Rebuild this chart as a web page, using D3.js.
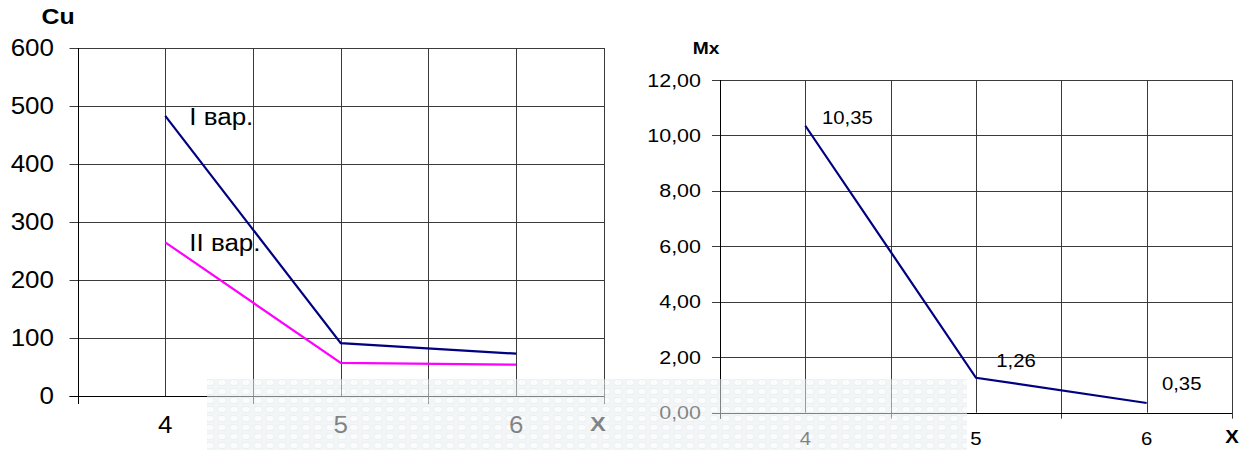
<!DOCTYPE html>
<html>
<head>
<meta charset="utf-8">
<script src="https://cdn.jsdelivr.net/npm/d3@7"></script>
<style>
  html, body { margin: 0; padding: 0; background: #fff; }
  svg { display: block; font-family: "Liberation Sans", Arial, sans-serif; }
</style>
</head>
<body>
<svg id="chart" width="1254" height="450"></svg>
<script>
// Categories (X) shared by both plots
const categories = [4, 5, 6];

// Left plot: Cu for two variants
const cuVariant1 = [483, 91, 73];
const cuVariant2 = [265, 57, 54];
const cuTicks = [0, 100, 200, 300, 400, 500, 600];
const seriesNames = ["I вар.", "II вар."];

// Right plot: Mx
const mxValues = [10.35, 1.26, 0.35];
const mxTicks = [0, 2, 4, 6, 8, 10, 12];

const svg = d3.select("#chart");
const commaFmt = v => d3.format(".2f")(v).replace(".", ",");
const SX = 1.13; // the lettering is set slightly wide

// place a text element at (x, y), widened horizontally
function placeText(sel, fx, fy) {
  return sel.attr("x", 0).attr("y", 0)
    .attr("transform", (d, i) => `translate(${fx(d, i)},${fy(d, i)}) scale(${SX},1)`);
}

// Hatch pattern for the translucent band along the bottom
const defs = svg.append("defs");
const pat = defs.append("pattern")
  .attr("id", "weave").attr("patternUnits", "userSpaceOnUse")
  .attr("width", 12).attr("height", 9);
pat.append("rect").attr("width", 12).attr("height", 9).attr("fill", "#e9eef1");
pat.append("ellipse").attr("cx", 6).attr("cy", 4.5).attr("rx", 4.2).attr("ry", 3)
  .attr("fill", "#f8fafb").attr("stroke", "#d6dde2").attr("stroke-width", 0.8);
pat.append("ellipse").attr("cx", 0).attr("cy", 0).attr("rx", 3).attr("ry", 2)
  .attr("fill", "none").attr("stroke", "#dde3e7").attr("stroke-width", 0.6);
pat.append("ellipse").attr("cx", 12).attr("cy", 9).attr("rx", 3).attr("ry", 2)
  .attr("fill", "none").attr("stroke", "#dde3e7").attr("stroke-width", 0.6);

function drawPanel(cfg) {
  const g = svg.append("g");
  const x = d3.scaleLinear().domain([3.5, 6.5]).range([cfg.left, cfg.right]);
  const y = d3.scaleLinear().domain(cfg.yDomain).range([cfg.bottom, cfg.top]);

  // horizontal grid lines with outward ticks
  g.append("g").selectAll("line").data(cfg.yTicks).join("line")
    .attr("x1", cfg.left - 8).attr("x2", cfg.right)
    .attr("y1", d => Math.round(y(d)) + 0.5).attr("y2", d => Math.round(y(d)) + 0.5)
    .attr("stroke", "#3a3a3a").attr("stroke-width", 1);

  // vertical grid lines at every half step
  const vx = d3.range(3.5, 6.51, 0.5);
  g.append("g").selectAll("line").data(vx).join("line")
    .attr("x1", d => Math.round(x(d)) + 0.5).attr("x2", d => Math.round(x(d)) + 0.5)
    .attr("y1", cfg.top)
    .attr("y2", d => (Math.abs(d % 1 - 0.5) < 1e-6) ? cfg.bottom + cfg.tickLen : cfg.bottom)
    .attr("stroke", "#3a3a3a").attr("stroke-width", 1);

  // axes
  g.append("line").attr("x1", Math.round(cfg.left) + 0.5).attr("x2", Math.round(cfg.left) + 0.5)
    .attr("y1", cfg.top).attr("y2", cfg.bottom + cfg.tickLen).attr("stroke", "#000");
  g.append("line").attr("x1", cfg.left - 8).attr("x2", cfg.right)
    .attr("y1", Math.round(cfg.bottom) + 0.5).attr("y2", Math.round(cfg.bottom) + 0.5).attr("stroke", "#000");

  // y tick labels
  placeText(g.append("g").selectAll("text").data(cfg.yTicks).join("text"),
      () => cfg.yLabelX, d => y(d))
    .attr("text-anchor", "end").attr("dominant-baseline", "central")
    .attr("font-size", cfg.yFont)
    .text(cfg.yFmt);

  // x tick labels
  placeText(g.append("g").selectAll("text").data(categories).join("text"),
      d => x(d), () => cfg.xLabelY)
    .attr("text-anchor", "middle").attr("dominant-baseline", "central")
    .attr("font-size", cfg.xFont)
    .text(d => d);

  // axis titles
  placeText(g.append("text"), () => cfg.yTitle[0], () => cfg.yTitle[1])
    .attr("font-size", cfg.yTitle[2]).attr("font-weight", "bold")
    .attr("text-anchor", "middle").attr("dominant-baseline", "central")
    .text(cfg.yName);
  placeText(g.append("text"), () => cfg.xTitle[0], () => cfg.xTitle[1])
    .attr("font-size", cfg.xTitle[2]).attr("font-weight", "bold")
    .attr("text-anchor", "middle").attr("dominant-baseline", "central")
    .text("X");

  const line = d3.line().x((d, i) => x(categories[i])).y(d => y(d));
  cfg.series.forEach(s => {
    g.append("path").datum(s.values)
      .attr("d", line).attr("fill", "none")
      .attr("stroke", s.color).attr("stroke-width", 2.2);
  });
  return { g, x, y };
}

// Left panel: Cu
const left = drawPanel({
  left: 77.5, right: 604, top: 48, bottom: 396, tickLen: 8,
  yDomain: [0, 600], yTicks: cuTicks, yFmt: d => d,
  yLabelX: 54, yFont: 23, xLabelY: 425, xFont: 23,
  yName: "Cu", yTitle: [58, 17, 22], xTitle: [598, 424, 21],
  series: [
    { values: cuVariant1, color: "#000080" },
    { values: cuVariant2, color: "#ff00ff" }
  ]
});

// series name labels beside the first points
placeText(left.g.append("text"), () => left.x(categories[0]) + 24, () => left.y(cuVariant1[0]) + 9)
  .attr("font-size", 23).text(seriesNames[0]);
placeText(left.g.append("text"), () => left.x(categories[0]) + 24, () => left.y(cuVariant2[0]) + 9)
  .attr("font-size", 23).text(seriesNames[1]);

// Right panel: Mx
const right = drawPanel({
  left: 720, right: 1232, top: 80, bottom: 412.7, tickLen: 6,
  yDomain: [0, 12], yTicks: mxTicks, yFmt: commaFmt,
  yLabelX: 701, yFont: 19, xLabelY: 439, xFont: 18,
  yName: "Mx", yTitle: [706, 48, 17], xTitle: [1232, 437, 18],
  series: [{ values: mxValues, color: "#000080" }]
});

// value labels next to the points
const labelOffsets = [[42, -8], [40, -17], [35, -19]];
placeText(right.g.append("g").selectAll("text").data(mxValues).join("text"),
    (d, i) => right.x(categories[i]) + labelOffsets[i][0],
    (d, i) => right.y(d) + labelOffsets[i][1])
  .attr("text-anchor", "middle").attr("dominant-baseline", "central")
  .attr("font-size", 18)
  .text(commaFmt);

// translucent patterned band along the bottom
svg.append("rect").attr("x", 207).attr("y", 379).attr("width", 760).attr("height", 71)
  .attr("fill", "url(#weave)").attr("opacity", 0.55);
</script>
</body>
</html>
